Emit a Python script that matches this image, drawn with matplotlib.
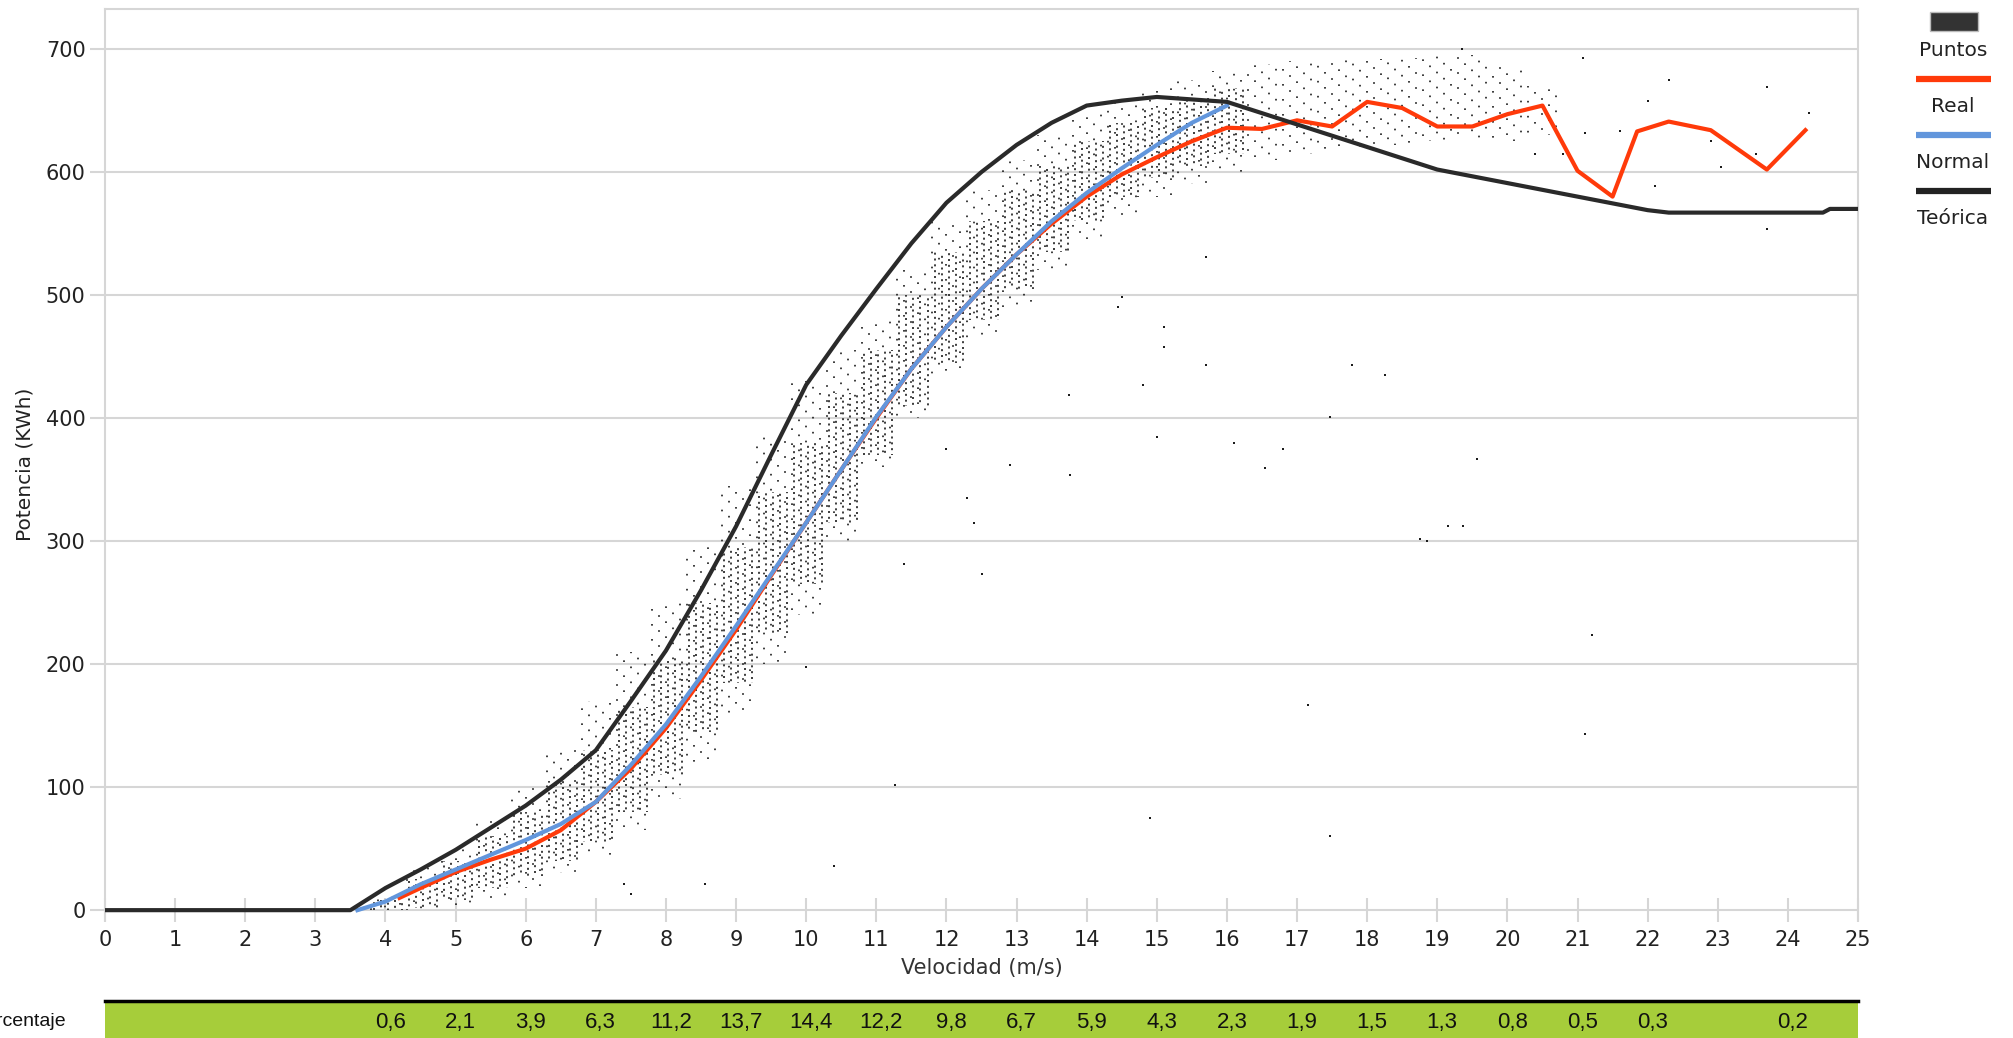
import matplotlib
matplotlib.use('Agg')
import matplotlib.pyplot as plt
import numpy as np
from matplotlib import font_manager
from matplotlib.lines import Line2D
from matplotlib.patches import Rectangle

# %% data
# theoretical curve (Teorica)
teo_x = [0, 3.5, 4, 4.5, 5, 5.5, 6, 6.5, 7, 7.5, 8, 8.5, 9, 9.5, 10, 10.5, 11, 11.5,
         12, 12.5, 13, 13.5, 14, 14.5, 15, 16, 19, 22, 22.3, 24.5, 24.6, 25]
teo_y = [0, 0, 18, 33, 49, 67, 85, 106, 130, 170, 211, 260, 312, 370, 427, 467, 505, 542,
         575, 600, 622, 640, 654, 658, 661, 657, 602, 569, 567, 567, 570, 570]

# normal curve
nor_x = [3.6, 4, 4.5, 5, 5.5, 6, 6.5, 7, 7.5, 8, 8.5, 9, 9.5, 10, 10.5, 11, 11.5,
         12, 12.5, 13, 13.5, 14, 14.5, 15, 15.5, 16]
nor_y = [0, 7, 21, 33, 45, 57, 70, 88, 118, 151, 190, 231, 273, 315, 358, 401, 440,
         474, 505, 533, 560, 583, 603, 622, 640, 654]

# real curve
real_x = [4.2, 4.5, 5, 5.5, 6, 6.5, 7, 7.5, 8, 8.5, 9, 9.5, 10, 10.5, 11, 11.5, 12, 12.5,
          13, 13.5, 14, 14.5, 15, 15.5, 16, 16.5, 17, 17.5, 18, 18.5, 19, 19.5, 20, 20.5,
          21, 21.5, 21.85, 22.3, 22.9, 23.7, 24.25]
real_y = [10, 18, 31, 41, 50, 65, 88, 115, 148, 187, 228, 272, 315, 358, 400, 440, 474, 505,
          533, 558, 580, 598, 612, 625, 636, 635, 642, 637, 657, 652, 637, 637, 647, 654,
          601, 580, 633, 641, 634, 602, 634]

# point cloud, per 0.5 m/s bin: full extent and dense core
bin_x = [4.0, 4.5, 5.0, 5.5, 6.0, 6.5, 7.0, 7.5, 8.0, 8.5, 9.0, 9.5, 10.0, 10.5, 11.0, 11.5,
         12.0, 12.5, 13.0, 13.5, 14.0, 14.5, 15.0, 15.5, 16.0, 16.5, 17.0, 17.5, 18.0, 18.5,
         19.0, 19.5, 20.0, 20.5]
bin_lo = [0, 0, 3, 10, 18, 30, 45, 65, 90, 120, 160, 200, 240, 300, 360, 400,
          435, 465, 490, 520, 545, 565, 580, 590, 600, 610, 615, 618, 620, 622,
          625, 628, 625, 630]
bin_hi = [12, 35, 50, 75, 100, 130, 170, 210, 250, 295, 345, 385, 430, 455, 480, 520,
          560, 585, 610, 630, 648, 658, 668, 675, 682, 688, 690, 692, 692, 693,
          694, 695, 685, 670]
core_x = [4.0, 4.5, 5.0, 5.5, 6.0, 6.5, 7.0, 7.5, 8.0, 8.5, 9.0, 9.5, 10.0, 10.5, 11.0, 11.5,
          12.0, 12.5, 13.0, 13.5, 14.0, 14.5, 15.0, 15.5, 16.0]
core_lo = [0, 2, 8, 18, 28, 40, 55, 80, 110, 145, 185, 225, 265, 315, 370, 410,
           445, 480, 505, 535, 560, 580, 595, 605, 615]
core_hi = [8, 25, 40, 60, 80, 105, 130, 165, 205, 250, 295, 340, 380, 420, 455, 500,
           535, 560, 585, 605, 625, 640, 652, 660, 668]

# isolated points
out_x = [7.4, 7.5, 8.55, 10.4, 10.0, 11.27, 11.4, 12.0, 12.3, 12.4, 12.5, 12.9, 13.75, 13.76,
         14.45, 14.5, 14.8, 14.9, 15.0, 15.1, 15.1, 15.7, 15.7, 16.1, 16.55, 16.8, 17.15,
         17.47, 17.47, 17.78, 18.25, 18.75, 18.85, 19.15, 19.37, 19.57, 21.1, 21.2, 21.08,
         19.35, 20.4, 20.8, 21.1, 21.6, 22.0, 22.1, 22.3, 22.9, 23.05, 23.55, 23.7, 23.7, 24.3]
out_y = [21, 13, 21, 36, 198, 102, 281, 375, 335, 315, 273, 362, 419, 354,
         490, 498, 427, 75, 385, 458, 474, 443, 531, 380, 359, 375, 167,
         60, 401, 443, 435, 302, 300, 312, 312, 367, 143, 224, 693,
         700, 615, 615, 632, 633, 658, 589, 675, 625, 604, 615, 669, 554, 648]

# percentage strip
pct_x = [4, 5, 6, 7, 8, 9, 10, 11, 12, 13, 14, 15, 16, 17, 18, 19, 20, 21, 22, 24]
pct_lbl = ['0,6', '2,1', '3,9', '6,3', '11,2', '13,7', '14,4', '12,2', '9,8', '6,7',
           '5,9', '4,3', '2,3', '1,9', '1,5', '1,3', '0,8', '0,5', '0,3', '0,2']

# %% styles
W, H = 2013, 1038
GRID = '#d6d6d6'
TXT = '#222222'
RED = '#ff3a0a'
BLUE = '#6296dc'
BLACK = '#2a2a2a'
GREEN = '#a6cd3a'
DOT = '#1c1c1c'

names = {f.name for f in font_manager.fontManager.ttflist}
narrow = 'Liberation Sans Narrow' if 'Liberation Sans Narrow' in names else 'Liberation Sans'

plt.rcParams['font.family'] = ['DejaVu Sans']

def fx(px):
    return px / W

def fy(py):
    return 1 - py / H

fig = plt.figure(figsize=(W / 100, H / 100), dpi=100)
ax = fig.add_axes([fx(105), fy(920), fx(1858) - fx(105), fy(9) - fy(920)])

ax.set_xlim(0, 25)
ax.set_ylim(-8, 732.5)

# cloud of points, drawn as dotted columns 0.1 m/s apart
offs = np.array([-0.2, -0.1, 0.0, 0.1, 0.2])
cx = np.repeat(bin_x, len(offs)) + np.tile(offs, len(bin_x))
ls_sparse = [((i * 3.7) % 9, (1, 8)) for i in range(len(cx))]
ax.vlines(cx, np.repeat(bin_lo, len(offs)), np.repeat(bin_hi, len(offs)),
          colors=DOT, linewidth=1.2, linestyles=ls_sparse, zorder=2)
kx = np.repeat(core_x, len(offs)) + np.tile(offs, len(core_x))
ls_core = [((i * 1.9) % 3.5, (1.2, 2.3)) for i in range(len(kx))]
ax.vlines(kx + 0.03, np.repeat(core_lo, len(offs)), np.repeat(core_hi, len(offs)),
          colors=DOT, linewidth=1.2, linestyles=ls_core, zorder=2)
ax.scatter(out_x, out_y, s=3, marker='s', color=DOT, linewidths=0, zorder=2)

ax.plot(real_x, real_y, color=RED, lw=3.0, zorder=3, solid_joinstyle='round')
ax.plot(nor_x, nor_y, color=BLUE, lw=3.0, zorder=4, solid_joinstyle='round')
ax.plot(teo_x, teo_y, color=BLACK, lw=3.0, zorder=5, solid_joinstyle='round')

# axes look
ax.set_yticks(range(0, 701, 100))
ax.set_xticks(range(0, 26))
ax.grid(axis='y', color=GRID, lw=1.5, zorder=0)
for s in ['left', 'top', 'right']:
    ax.spines[s].set_color(GRID)
    ax.spines[s].set_linewidth(1.5)
ax.spines['bottom'].set_position(('data', 0))
ax.spines['bottom'].set_visible(False)
ax.tick_params(axis='x', direction='inout', length=17, width=1.5, color=GRID,
               pad=6, labelsize=15, labelcolor=TXT)
ax.tick_params(axis='y', direction='out', length=11, width=1.5, color=GRID,
               pad=3, labelsize=15, labelcolor=TXT)
ax.set_xlabel('Velocidad (m/s)', fontsize=15, color='#333333')
ax.set_ylabel('Potencia (KWh)', fontsize=14.5, color=TXT)
ax.yaxis.set_label_coords(-0.0405, 0.5)
ax.xaxis.set_label_coords(0.5, -0.042)

# legend on the right
fig.add_artist(Rectangle((fx(1930), fy(31)), fx(48), fy(12) - fy(31), transform=fig.transFigure,
                         facecolor='#333333', edgecolor='#bbbbbb', lw=1))
for yy, col in [(79, RED), (135, BLUE), (191, '#222222')]:
    fig.add_artist(Line2D([fx(1916), fx(1991)], [fy(yy), fy(yy)], transform=fig.transFigure,
                          color=col, lw=4.5, solid_capstyle='butt'))
for yy, t in [(51, 'Puntos'), (107, 'Real'), (163, 'Normal'), (218, 'Teórica')]:
    fig.text(fx(1953), fy(yy), t, ha='center', va='center', fontsize=14.5, color=TXT)

# percentage strip
ax2 = fig.add_axes([fx(105), 0, fx(1858) - fx(105), fy(1001)])
ax2.set_facecolor(GREEN)
ax2.set_xlim(0, 25)
ax2.set_ylim(0, 1)
ax2.set_xticks([])
ax2.set_yticks([])
for s in ['left', 'right', 'bottom']:
    ax2.spines[s].set_visible(False)
ax2.spines['top'].set_color('black')
ax2.spines['top'].set_linewidth(2.5)
for xv, t in zip(pct_x, pct_lbl):
    ax2.text(xv + 0.07, 0.42, t, ha='center', va='center', fontsize=16, family=narrow, color='#111111')
fig.text(fx(66), fy(1022), 'Porcentaje', ha='right', va='center', fontsize=14, family=narrow,
         color='#111111')

fig.savefig('out.png', dpi=100)
